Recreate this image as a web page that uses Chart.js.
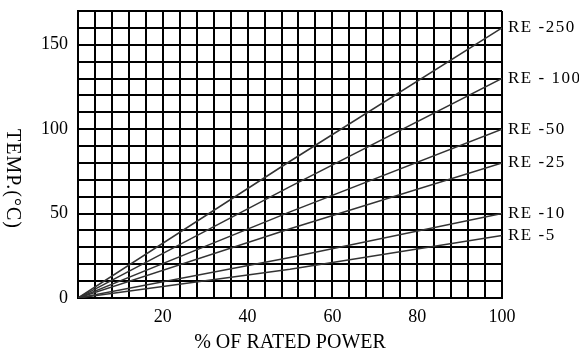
<!DOCTYPE html>
<html>
<head>
<meta charset="utf-8">
<script src="https://cdn.jsdelivr.net/npm/chart.js@4"></script>
<style>
  html, body { margin: 0; padding: 0; background: #fff; }
  #wrap { width: 579px; height: 359px; }
</style>
</head>
<body>
<div id="wrap"><canvas id="chart" width="579" height="359"></canvas></div>
<script>
/* datos */
const powerPct = [0, 50, 100];
const seriesNames = ['RE -250', 'RE - 100', 'RE -50', 'RE -25', 'RE -10', 'RE -5'];
const re250 = [0, 81, 160];
const re100 = [0, 66, 130];
const re50 = [0, 51, 100];
const re25 = [0, 41, 80];
const re10 = [0, 24, 50];
const re5 = [0, 17, 37];
const yTickLabels = [0, 50, 100, 150];
const xTickLabels = [20, 40, 60, 80, 100];

const allSeries = [re250, re100, re50, re25, re10, re5];
const font = 'Liberation Serif';

const datasets = allSeries.map((vals, i) => ({
    label: seriesNames[i],
    data: vals.map((v, j) => ({ x: powerPct[j], y: v })),
    borderColor: '#333',
    borderWidth: 1.5,
    pointRadius: 0,
    fill: false
}));

/* etiquetas RE a la derecha y titulo del eje Y */
const extras = {
    id: 'extras',
    afterDraw(chart) {
        const c = chart.ctx;
        const xs = chart.scales.x, ys = chart.scales.y;
        c.save();
        c.fillStyle = '#000';
        c.font = '17px "' + font + '"';
        c.letterSpacing = '1.5px';
        c.textBaseline = 'middle';
        c.textAlign = 'left';
        chart.data.datasets.forEach(ds => {
            const last = ds.data[ds.data.length - 1];
            c.fillText(ds.label, xs.getPixelForValue(last.x) + 6, ys.getPixelForValue(last.y));
        });
        c.font = '20px "' + font + '"';
        c.letterSpacing = '1px';
        c.translate(12, 179);
        c.rotate(Math.PI / 2);
        c.textAlign = 'center';
        c.fillText('TEMP.(°C)', 0, 0);
        c.restore();
    }
};

const chart = new Chart(document.getElementById('chart'), {
    type: 'line',
    data: { datasets },
    plugins: [extras],
    options: {
        responsive: false,
        animation: false,
        layout: { padding: { top: 11, right: 77, left: 0, bottom: 0 } },
        plugins: { legend: { display: false }, tooltip: { enabled: false } },
        scales: {
            x: {
                type: 'linear', min: 0, max: 100,
                grid: { color: '#000', lineWidth: 2, drawTicks: false },
                border: { color: '#000', width: 2 },
                ticks: {
                    stepSize: 4, autoSkip: false, maxRotation: 0, padding: 8,
                    color: '#000', font: { family: font, size: 18 },
                    callback: v => xTickLabels.includes(v) ? String(v) : ''
                },
                title: { display: true, text: '% OF RATED POWER', color: '#000',
                         font: { family: font, size: 20 }, padding: { top: 4 } },
                afterFit: s => { s.height = 61; s.paddingLeft = 0; s.paddingRight = 0; }
            },
            y: {
                type: 'linear', min: 0, max: 170,
                grid: { color: '#000', lineWidth: 2, drawTicks: false },
                border: { color: '#000', width: 2 },
                ticks: {
                    stepSize: 10, autoSkip: false, padding: 10,
                    color: '#000', font: { family: font, size: 18 },
                    callback: v => yTickLabels.includes(v) ? String(v) : ''
                },
                afterFit: s => { s.width = 78; s.paddingTop = 0; s.paddingBottom = 0; }
            }
        }
    }
});
</script>
</body>
</html>
